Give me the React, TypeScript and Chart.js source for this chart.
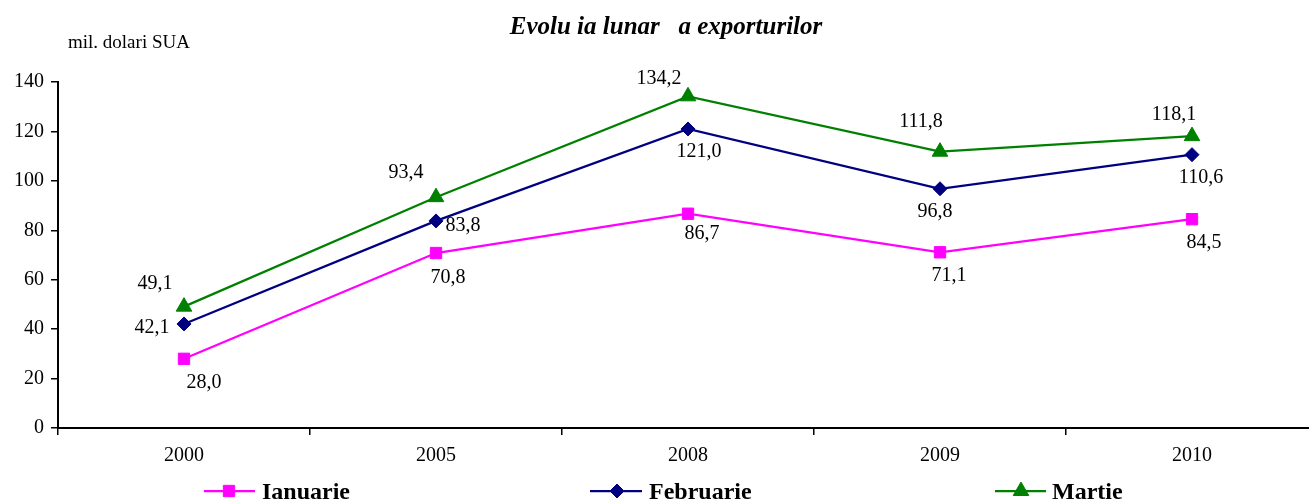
import React, { useEffect, useRef } from "react";
import { Chart, registerables } from "chart.js";

Chart.register(...registerables);

// ---------------- DATA ----------------
const YEARS = ["2000", "2005", "2008", "2009", "2010"];
const IANUARIE = [28.0, 70.8, 86.7, 71.1, 84.5];
const FEBRUARIE = [42.1, 83.8, 121.0, 96.8, 110.6];
const MARTIE = [49.1, 93.4, 134.2, 111.8, 118.1];
const SERIES_NAMES = ["Ianuarie", "Februarie", "Martie"];
const Y_MIN = 0;
const Y_MAX = 140;
const Y_STEP = 20;
const TITLE = "Evolu ia lunar   a exporturilor";
const UNIT_LABEL = "mil. dolari SUA";

// ---------------- STYLE / PLACEMENT ----------------
const COLORS = ["#FF00FF", "#000080", "#008000"];
const POINT_STYLES = ["rect", "rectRot", "triangle"];
const POINT_RADII = [8, 7, 9];
// data label offsets (dx, dy) from each point, per series
const LABEL_OFFSETS = [
  [[20, 24], [12, 25], [14, 20], [9, 23], [12, 24]],
  [[-32, 4], [27, 5], [11, 23], [-5, 23], [9, 23]],
  [[-29, -23], [-30, -24], [-29, -18], [-19, -30], [-18, -21]],
];
// legend placement: [lineStartX, lineEndX, markerX, textX]
const LEGEND_POS = [
  [204, 255, 229, 262],
  [590, 642, 617, 649],
  [995, 1046, 1021, 1052],
];
const FONT = '"Liberation Serif", "Times New Roman", serif';

function drawMarker(ctx: CanvasRenderingContext2D, style: string, x: number, y: number, r: number, color: string) {
  ctx.save();
  ctx.fillStyle = color;
  ctx.strokeStyle = color;
  ctx.lineWidth = 1;
  ctx.beginPath();
  if (style === "rect") {
    const s = Math.SQRT1_2 * r;
    ctx.rect(x - s, y - s, 2 * s, 2 * s);
  } else if (style === "rectRot") {
    ctx.moveTo(x, y - r);
    ctx.lineTo(x + r, y);
    ctx.lineTo(x, y + r);
    ctx.lineTo(x - r, y);
    ctx.closePath();
  } else {
    const a = Math.PI / 2;
    for (let i = 0; i < 3; i++) {
      const ang = -a + (i * 2 * Math.PI) / 3;
      const px = x + Math.cos(ang) * r;
      const py = y + Math.sin(ang) * r;
      if (i === 0) ctx.moveTo(px, py);
      else ctx.lineTo(px, py);
    }
    ctx.closePath();
  }
  ctx.fill();
  ctx.stroke();
  ctx.restore();
}

const decorPlugin = {
  id: "decor",
  afterDatasetsDraw(chart: any) {
    const ctx = chart.ctx as CanvasRenderingContext2D;
    ctx.save();
    ctx.fillStyle = "#000";
    ctx.font = `20px ${FONT}`;
    ctx.textAlign = "center";
    ctx.textBaseline = "middle";
    chart.data.datasets.forEach((ds: any, di: number) => {
      const meta = chart.getDatasetMeta(di);
      meta.data.forEach((pt: any, i: number) => {
        const v = ds.data[i] as number;
        const [dx, dy] = LABEL_OFFSETS[di][i];
        ctx.fillText(v.toFixed(1).replace(".", ","), pt.x + dx, pt.y + dy);
      });
    });
    ctx.restore();
  },
  afterDraw(chart: any) {
    const ctx = chart.ctx as CanvasRenderingContext2D;
    ctx.save();
    ctx.fillStyle = "#000";
    // title
    ctx.font = `italic bold 25px ${FONT}`;
    ctx.textAlign = "center";
    ctx.textBaseline = "alphabetic";
    ctx.fillText(TITLE, 666, 34);
    // unit label
    ctx.font = `19px ${FONT}`;
    ctx.textAlign = "left";
    ctx.fillText(UNIT_LABEL, 68, 48);
    // legend
    SERIES_NAMES.forEach((name, i) => {
      const [x0, x1, mx, tx] = LEGEND_POS[i];
      const ly = 491;
      ctx.strokeStyle = COLORS[i];
      ctx.lineWidth = 2.25;
      ctx.beginPath();
      ctx.moveTo(x0, ly);
      ctx.lineTo(x1, ly);
      ctx.stroke();
      drawMarker(ctx, POINT_STYLES[i], mx, ly, POINT_RADII[i], COLORS[i]);
      ctx.fillStyle = "#000";
      ctx.font = `bold 24px ${FONT}`;
      ctx.textAlign = "left";
      ctx.textBaseline = "alphabetic";
      ctx.fillText(name, tx, 499);
    });
    ctx.restore();
  },
};

export default function App() {
  const canvasRef = useRef<HTMLCanvasElement | null>(null);

  useEffect(() => {
    const canvas = canvasRef.current;
    if (!canvas) return;
    const seriesData = [IANUARIE, FEBRUARIE, MARTIE];
    const chart = new Chart(canvas, {
      type: "line",
      data: {
        labels: YEARS,
        datasets: seriesData.map((d, i) => ({
          label: SERIES_NAMES[i],
          data: d,
          borderColor: COLORS[i],
          backgroundColor: COLORS[i],
          borderWidth: 2.25,
          pointStyle: POINT_STYLES[i] as any,
          pointRadius: POINT_RADII[i],
          pointBorderWidth: 1,
          pointBackgroundColor: COLORS[i],
          pointBorderColor: COLORS[i],
          tension: 0,
          fill: false,
        })),
      },
      options: {
        responsive: false,
        animation: false,
        devicePixelRatio: 1,
        layout: { padding: { top: 82, right: 12, bottom: 0, left: 0 } },
        plugins: {
          legend: { display: false },
          title: { display: false },
          tooltip: { enabled: false },
        },
        scales: {
          x: {
            type: "category",
            offset: true,
            afterFit: (s: any) => {
              s.height = 75;
            },
            grid: {
              offset: true,
              drawOnChartArea: false,
              drawTicks: true,
              tickLength: 7,
              color: "#000",
              lineWidth: 1.5,
            },
            border: { display: true, color: "#000", width: 2 },
            ticks: {
              color: "#000",
              font: { family: FONT, size: 20 },
              padding: 9,
              maxRotation: 0,
            },
          },
          y: {
            min: Y_MIN,
            max: Y_MAX,
            afterFit: (s: any) => {
              s.width = 58;
            },
            grid: {
              drawOnChartArea: false,
              drawTicks: true,
              tickLength: 7,
              color: "#000",
              lineWidth: 1.5,
            },
            border: { display: true, color: "#000", width: 2 },
            ticks: {
              stepSize: Y_STEP,
              color: "#000",
              font: { family: FONT, size: 20 },
              padding: 7,
            },
          },
        },
      },
      plugins: [decorPlugin],
    });
    return () => chart.destroy();
  }, []);

  return (
    <div
      style={{
        position: "fixed",
        left: 0,
        top: 0,
        width: 1309,
        height: 503,
        overflow: "hidden",
        background: "#fff",
      }}
    >
      <canvas ref={canvasRef} width={1330} height={503} style={{ display: "block" }} />
    </div>
  );
}
